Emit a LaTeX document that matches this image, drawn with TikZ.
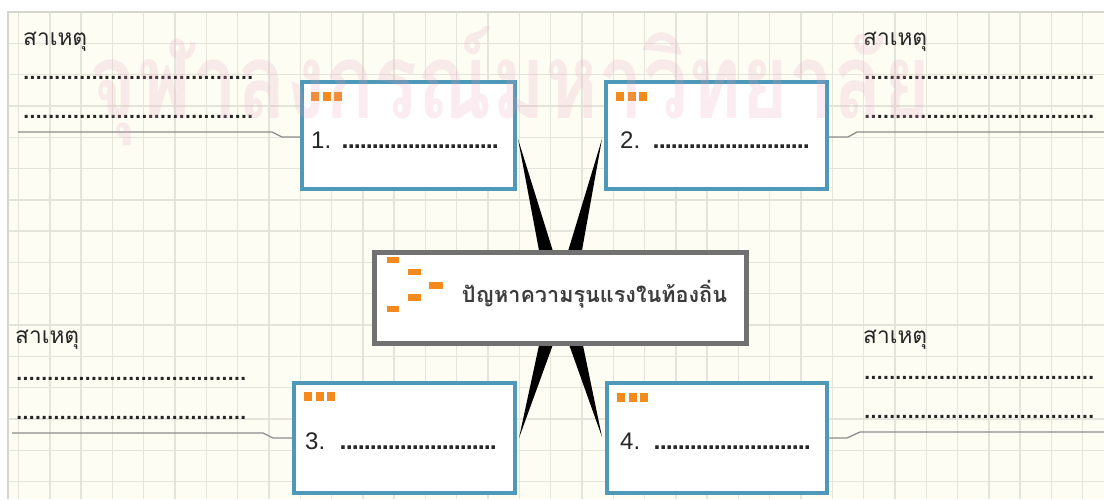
\documentclass[tikz,border=0pt]{standalone}
\usepackage{fontspec}
\usepackage{graphicx}
\setmainfont{Liberation Sans}
\newfontfamily\thaifont[Script=Thai]{Loma}
\usetikzlibrary{calc}
\definecolor{bg}{HTML}{FDFDF3}
\definecolor{gridc}{HTML}{E4E5DA}
\definecolor{edgec}{HTML}{D6D7CC}
\definecolor{boxblue}{HTML}{4E98B8}
\definecolor{orng}{HTML}{F28A1E}
\definecolor{cgray}{HTML}{717171}
\definecolor{linec}{HTML}{8C8C8C}
\definecolor{wm}{HTML}{E8A0BC}
\definecolor{txt}{HTML}{262626}
\newcommand\dotrow[2]{\hbox to #1{\xleaders\hbox to #2{\hss.\hss}\hfill}}
\newcommand\boxline[2]{\hbox to #1{#2\hss}{\fontsize{25}{27}\selectfont\bfseries\dotrow{156pt}{6pt}}}
\begin{document}
\begin{tikzpicture}[x=1pt,y=-1pt,
  gridline/.style={gridc, line width=1.4pt},
  numbox/.style={draw=boxblue, line width=4pt, fill=white, rectangle, inner sep=0pt},
  centerbox/.style={draw=cgray, line width=5pt, fill=white, rectangle, inner sep=0pt},
  wedge/.style={fill=black},
  link/.style={draw=linec, line width=1.3pt},
  sq/.style={fill=orng},
  numtxt/.style={anchor=base west, inner sep=0pt, text=txt, font=\fontsize{24}{28}\selectfont},
  causedots/.style={anchor=base west, inner sep=0pt, text=txt, font=\fontsize{21}{24}\selectfont\bfseries},
  causetxt/.style={anchor=base west, inner sep=0pt, text=txt},
  cmark/.style={fill=orng}
]
\useasboundingbox (0,0) rectangle (1104,499);
\fill[white] (0,0) rectangle (1104,499);
\fill[bg] (8,12) rectangle (1104,499);
\foreach \k in {0,...,34} \draw[gridline] ({18.5+31.3*\k},12) -- ({18.5+31.3*\k},499);
\foreach \k in {1,...,15} \draw[gridline] (8,{12+31.3*\k}) -- (1104,{12+31.3*\k});
\draw[edgec, line width=1.4pt] (8,499) -- (8,12) -- (1104,12);

% boxes
\node[numbox, minimum width=213pt, minimum height=107pt] (b1) at (408.5,135.5) {};
\node[numbox, minimum width=221pt, minimum height=107pt] (b2) at (716.5,135.5) {};
\node[numbox, minimum width=221pt, minimum height=110pt] (b3) at (404.5,438) {};
\node[numbox, minimum width=220pt, minimum height=110pt] (b4) at (717,438) {};
\node[centerbox, minimum width=372pt, minimum height=91pt] (c) at (560.5,298) {};

% wedges (tapered connectors), drawn behind the centre box border
\fill[wedge] ($(b1.east)+(1,3.5)$) -- ($(c.north)+(-21,3)$) -- ($(c.north)+(-7,3)$) -- cycle;
\fill[wedge] ($(b2.west)+(-2,3.5)$) -- ($(c.north)+(21,3)$) -- ($(c.north)+(7,3)$) -- cycle;
\fill[wedge] ($(b3.east)+(2,0)$) -- ($(c.south)+(-21,-3)$) -- ($(c.south)+(-7,-3)$) -- cycle;
\fill[wedge] ($(b4.west)+(-3,-1)$) -- ($(c.south)+(22,-3)$) -- ($(c.south)+(8,-3)$) -- cycle;
\draw[cgray, line width=5pt] ($(c.north west)+(2.5,2.5)$) rectangle ($(c.south east)+(-2.5,-2.5)$);

% orange squares in boxes
\foreach \x/\y in {311/92, 616/92, 304/392, 617/393}{
  \fill[sq] (\x,\y) rectangle ++(8,9);
  \fill[sq] (\x+11.5,\y) rectangle ++(8,9);
  \fill[sq] (\x+23,\y) rectangle ++(8,9);
}

% numbers and dotted lines in boxes
\node[numtxt] (n1) at (311,148) {\boxline{31pt}{1.}};
\node[numtxt] (n2) at (620,148) {\boxline{33pt}{2.}};
\node[numtxt] (n3) at (305,449) {\boxline{35pt}{3.}};
\node[numtxt] (n4) at (620,449) {\boxline{34pt}{4.}};

% centre box markers and title
\fill[cmark] (387,257) rectangle (399,263);
\fill[cmark] (408,269) rectangle (421,275);
\fill[cmark] (429,282) rectangle (443,289);
\fill[cmark] (408,294) rectangle (421,301);
\fill[cmark] (387,306) rectangle (399,312);
\node[anchor=base, inner sep=0pt, text=txt!90!white] (title) at (594.5,302)
  {\resizebox{265pt}{!}{\thaifont\bfseries ปัญหาความรุนแรงในท้องถิ่น}};

% cause labels
\node[causetxt] (s1) at (23,45) {\resizebox{64pt}{!}{\thaifont สาเหตุ}};
\node[causetxt] (s2) at (863,45) {\resizebox{64pt}{!}{\thaifont สาเหตุ}};
\node[causetxt] (s3) at (15,343) {\resizebox{64pt}{!}{\thaifont สาเหตุ}};
\node[causetxt] (s4) at (863,343) {\resizebox{64pt}{!}{\thaifont สาเหตุ}};

\node[causedots] (l1a) at (23,79) {\dotrow{230pt}{6.2pt}};
\node[causedots] (l1b) at (23,118) {\dotrow{230pt}{6.2pt}};
\node[causedots] (l2a) at (864,79) {\dotrow{230pt}{6.2pt}};
\node[causedots] (l2b) at (864,118) {\dotrow{230pt}{6.2pt}};
\node[causedots] (l3a) at (16,380) {\dotrow{230pt}{6.2pt}};
\node[causedots] (l3b) at (16,419) {\dotrow{230pt}{6.2pt}};
\node[causedots] (l4a) at (864,379) {\dotrow{230pt}{6.2pt}};
\node[causedots] (l4b) at (864,418) {\dotrow{230pt}{6.2pt}};

% connector lines
\coordinate (e1) at (18,132);
\coordinate (e2) at (1104,132);
\coordinate (e3) at (12,433);
\coordinate (e4) at (1104,432);
\draw[link] (e1) -- (272,132) -- (282,137) -- ($(b1.west)+(0,1.5)$);
\draw[link] ($(b2.east)+(0,1.5)$) -- (848,137) -- (857,132) -- (e2);
\draw[link] (e3) -- (263,433) -- (273,438) -- (b3.west);
\draw[link] (b4.east) -- (847,438) -- (860,432) -- (e4);

% watermark
\node[inner sep=0pt, text=wm, opacity=0.2, anchor=base] (wmk) at (510,118)
  {\scalebox{1}[1.3]{\resizebox{840pt}{!}{\thaifont\bfseries จุฬาลงกรณ์มหาวิทยาลัย}}};
\end{tikzpicture}
\end{document}
